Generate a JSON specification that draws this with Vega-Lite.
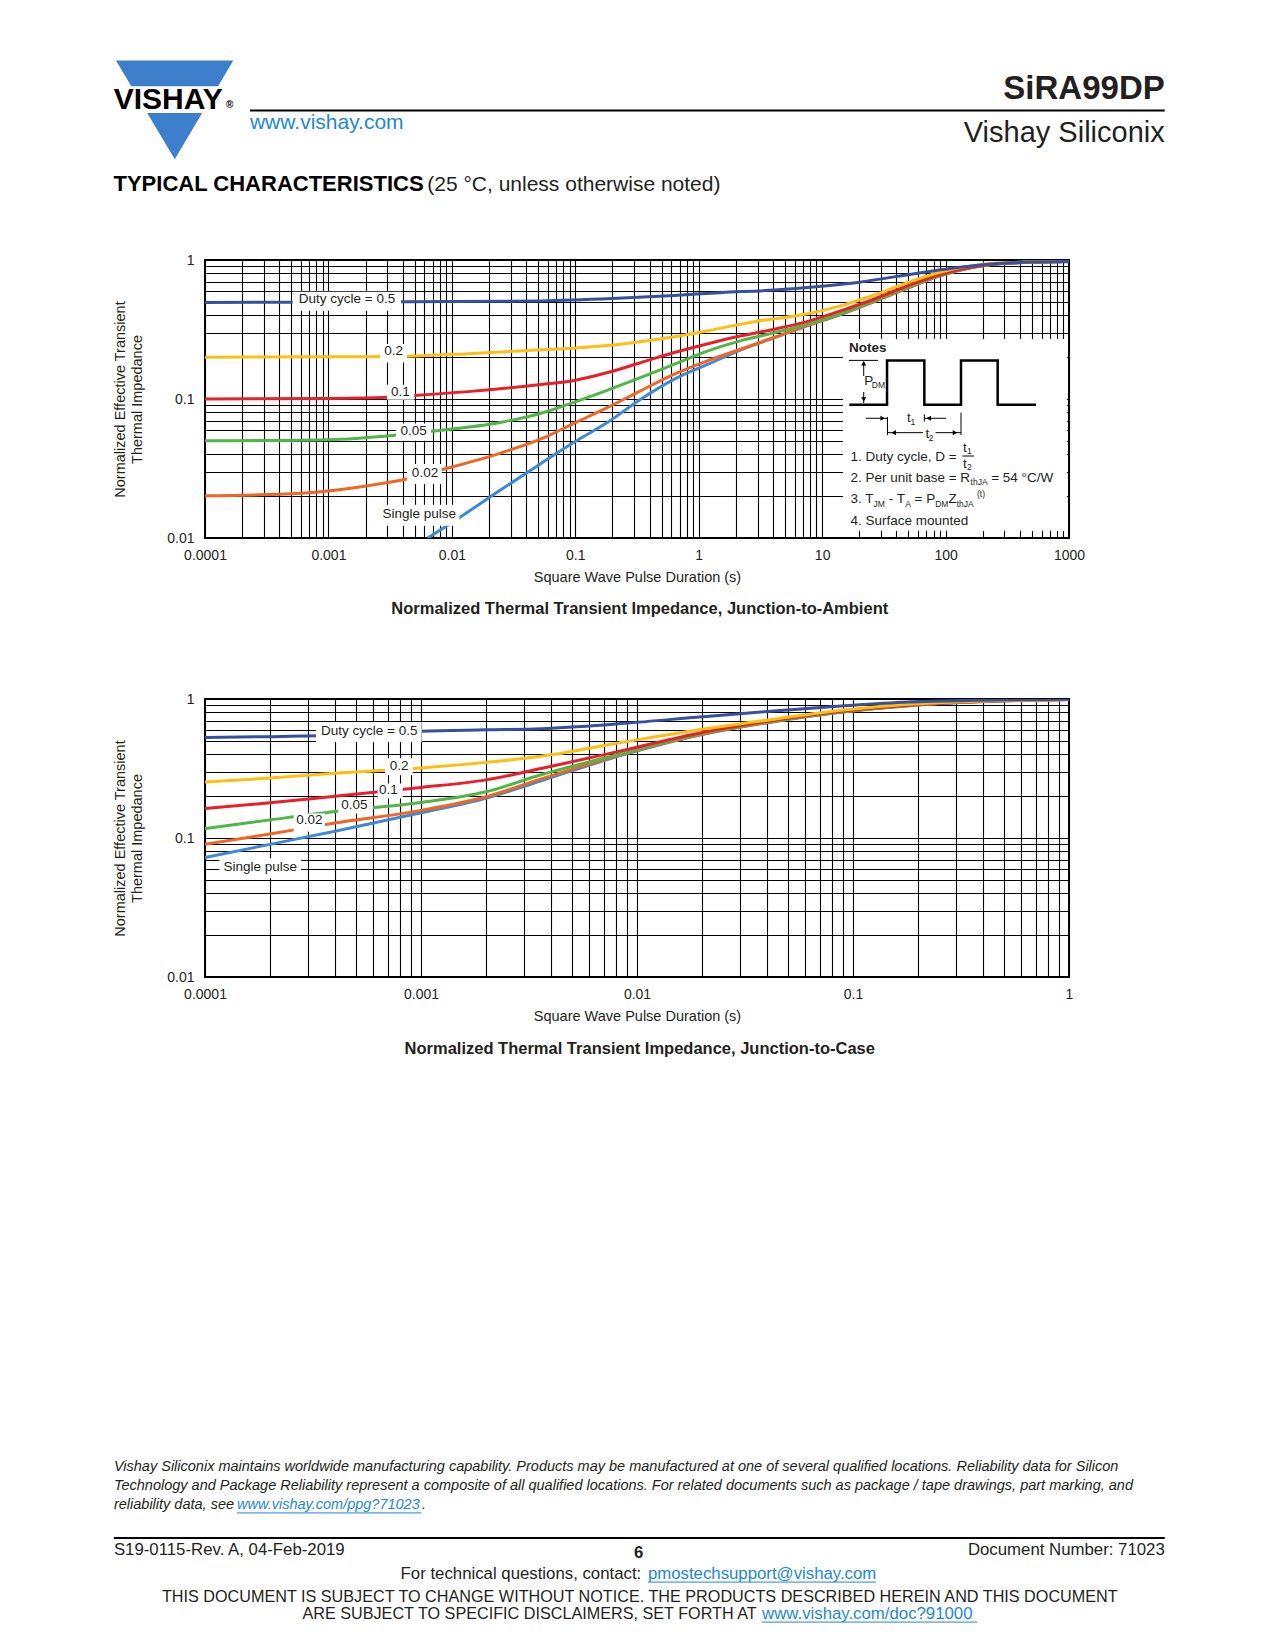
{
"$schema":"https://vega.github.io/schema/vega-lite/v6.json",
"background":"white",
"padding":0,
"spacing":0,
"config":{
 "font":"Liberation Sans",
 "view":{"stroke":"#000000","strokeWidth":2},
 "axis":{"labelFont":"Liberation Sans","labelFontSize":14,"labelColor":"#231f20","titleFont":"Liberation Sans","titleFontSize":14.5,"titleFontWeight":"normal","titleColor":"#231f20","grid":true,"gridColor":"#000000","gridOpacity":1,"gridWidth":1.1,"ticks":false,"domain":false}
},
"vconcat":[
{
 "width":864,"height":278,
 "resolve":{"scale":{"x":"independent","y":"independent"}},
 "layer":[
  {
   "encoding":{
    "x":{"field":"x","type":"quantitative","scale":{"type":"log","domain":[0.0001,1000],"nice":false},
     "axis":{"title":"Square Wave Pulse Duration (s)","values":[0.0001,0.0002,0.0003,0.0004,0.0005,0.0006,0.0007,0.0008,0.0009,0.001,0.002,0.003,0.004,0.005,0.006,0.007,0.008,0.009,0.01,0.02,0.03,0.04,0.05,0.06,0.07,0.08,0.09,0.1,0.2,0.3,0.4,0.5,0.6,0.7,0.8,0.9,1,2,3,4,5,6,7,8,9,10,20,30,40,50,60,70,80,90,100,200,300,400,500,600,700,800,900,1000],"format":"~g","labelExpr":"indexof(['0.0001','0.001','0.01','0.1','1','10','100','1000'], datum.label) >= 0 ? datum.label : ''","labelFlush":false,"labelOverlap":false,"labelPadding":10,"titlePadding":8}},
    "y":{"field":"y","type":"quantitative","scale":{"type":"log","domain":[0.01,1],"nice":false},
     "axis":{"title":["Normalized Effective Transient","Thermal Impedance"],"values":[0.01,0.02,0.03,0.04,0.05,0.06,0.07,0.08,0.09,0.1,0.2,0.3,0.4,0.5,0.6,0.7,0.8,0.9,1],"format":"~g","labelExpr":"indexof(['0.01','0.1','1'], datum.label) >= 0 ? datum.label : ''","labelFlush":false,"labelOverlap":false,"labelPadding":11,"titlePadding":22,"titleLineHeight":17}}
   },
   "layer":[
    {"data":{"values":[
      {"s":"Single pulse","x":0.00637,"y":0.01},{"s":"Single pulse","x":0.0119,"y":0.0143},{"s":"Single pulse","x":0.0251,"y":0.0223},{"s":"Single pulse","x":0.0528,"y":0.0344},{"s":"Single pulse","x":0.0984,"y":0.049},{"s":"Single pulse","x":0.183,"y":0.068},{"s":"Single pulse","x":0.341,"y":0.1},{"s":"Single pulse","x":0.635,"y":0.139},{"s":"Single pulse","x":1.19,"y":0.178},{"s":"Single pulse","x":2.21,"y":0.226},{"s":"Single pulse","x":4.11,"y":0.276},{"s":"Single pulse","x":7.66,"y":0.338},{"s":"Single pulse","x":14.3,"y":0.407},{"s":"Single pulse","x":26.5,"y":0.502},{"s":"Single pulse","x":49.5,"y":0.628},{"s":"Single pulse","x":92,"y":0.772},{"s":"Single pulse","x":171,"y":0.889},{"s":"Single pulse","x":320,"y":0.95},{"s":"Single pulse","x":1000,"y":0.976},
      {"s":"0.02","x":0.0001,"y":0.0201},{"s":"0.02","x":0.0006,"y":0.021},{"s":"0.02","x":0.0021,"y":0.0238},{"s":"0.02","x":0.0043,"y":0.0266},{"s":"0.02","x":0.0083,"y":0.031},{"s":"0.02","x":0.0251,"y":0.041},{"s":"0.02","x":0.0528,"y":0.0516},{"s":"0.02","x":0.0984,"y":0.067},{"s":"0.02","x":0.183,"y":0.087},{"s":"0.02","x":0.341,"y":0.115},{"s":"0.02","x":0.635,"y":0.151},{"s":"0.02","x":1.19,"y":0.189},{"s":"0.02","x":2.21,"y":0.229},{"s":"0.02","x":4.11,"y":0.278},{"s":"0.02","x":7.66,"y":0.34},{"s":"0.02","x":14.3,"y":0.409},{"s":"0.02","x":26.5,"y":0.504},{"s":"0.02","x":49.5,"y":0.63},{"s":"0.02","x":92,"y":0.775},{"s":"0.02","x":171,"y":0.89},{"s":"0.02","x":320,"y":0.95},{"s":"0.02","x":1000,"y":0.976},
      {"s":"0.05","x":0.0001,"y":0.05},{"s":"0.05","x":0.001,"y":0.051},{"s":"0.05","x":0.0035,"y":0.055},{"s":"0.05","x":0.0068,"y":0.0585},{"s":"0.05","x":0.0251,"y":0.068},{"s":"0.05","x":0.0528,"y":0.079},{"s":"0.05","x":0.0984,"y":0.095},{"s":"0.05","x":0.183,"y":0.116},{"s":"0.05","x":0.341,"y":0.143},{"s":"0.05","x":0.635,"y":0.178},{"s":"0.05","x":1.19,"y":0.222},{"s":"0.05","x":2.21,"y":0.263},{"s":"0.05","x":4.11,"y":0.3},{"s":"0.05","x":7.66,"y":0.346},{"s":"0.05","x":14.3,"y":0.413},{"s":"0.05","x":26.5,"y":0.51},{"s":"0.05","x":49.5,"y":0.635},{"s":"0.05","x":92,"y":0.78},{"s":"0.05","x":171,"y":0.89},{"s":"0.05","x":320,"y":0.95},{"s":"0.05","x":1000,"y":0.976},
      {"s":"0.1","x":0.0001,"y":0.1},{"s":"0.1","x":0.001,"y":0.101},{"s":"0.1","x":0.003,"y":0.103},{"s":"0.1","x":0.005,"y":0.106},{"s":"0.1","x":0.0135,"y":0.113},{"s":"0.1","x":0.0528,"y":0.127},{"s":"0.1","x":0.0984,"y":0.136},{"s":"0.1","x":0.183,"y":0.155},{"s":"0.1","x":0.341,"y":0.183},{"s":"0.1","x":0.635,"y":0.216},{"s":"0.1","x":1.19,"y":0.25},{"s":"0.1","x":2.21,"y":0.285},{"s":"0.1","x":4.11,"y":0.318},{"s":"0.1","x":7.66,"y":0.362},{"s":"0.1","x":14.3,"y":0.432},{"s":"0.1","x":26.5,"y":0.524},{"s":"0.1","x":49.5,"y":0.653},{"s":"0.1","x":92,"y":0.79},{"s":"0.1","x":171,"y":0.895},{"s":"0.1","x":320,"y":0.95},{"s":"0.1","x":1000,"y":0.976},
      {"s":"0.2","x":0.0001,"y":0.2},{"s":"0.2","x":0.001,"y":0.201},{"s":"0.2","x":0.005,"y":0.204},{"s":"0.2","x":0.0135,"y":0.212},{"s":"0.2","x":0.0528,"y":0.226},{"s":"0.2","x":0.1,"y":0.233},{"s":"0.2","x":0.25,"y":0.25},{"s":"0.2","x":0.635,"y":0.28},{"s":"0.2","x":1.19,"y":0.31},{"s":"0.2","x":2.8,"y":0.36},{"s":"0.2","x":7.66,"y":0.41},{"s":"0.2","x":14.3,"y":0.47},{"s":"0.2","x":26.5,"y":0.56},{"s":"0.2","x":49.5,"y":0.69},{"s":"0.2","x":92,"y":0.82},{"s":"0.2","x":171,"y":0.915},{"s":"0.2","x":320,"y":0.958},{"s":"0.2","x":1000,"y":0.978},
      {"s":"0.5","x":0.0001,"y":0.495},{"s":"0.5","x":0.001,"y":0.497},{"s":"0.5","x":0.01,"y":0.502},{"s":"0.5","x":0.0528,"y":0.508},{"s":"0.5","x":0.2,"y":0.528},{"s":"0.5","x":0.635,"y":0.556},{"s":"0.5","x":1.5,"y":0.582},{"s":"0.5","x":4.11,"y":0.608},{"s":"0.5","x":10.4,"y":0.65},{"s":"0.5","x":19.4,"y":0.69},{"s":"0.5","x":36.1,"y":0.75},{"s":"0.5","x":67.2,"y":0.815},{"s":"0.5","x":125,"y":0.882},{"s":"0.5","x":233,"y":0.935},{"s":"0.5","x":434,"y":0.962},{"s":"0.5","x":1000,"y":0.976}
     ]},
     "mark":{"type":"line","strokeWidth":3,"interpolate":"monotone","clip":true},
     "encoding":{"color":{"field":"s","type":"nominal","scale":{"domain":["Single pulse","0.02","0.05","0.1","0.2","0.5"],"range":["#3d8bd5","#f26522","#4fb748","#e8202a","#fdc010","#34509e"]},"legend":null}}},
    {"data":{"values":[
      {"x":0.000513,"x2":0.00387,"y":0.432,"y2":0.591},{"x":0.002633,"x2":0.00433,"y":0.1833,"y2":0.2487},{"x":0.00298,"x2":0.00496,"y":0.0989,"y2":0.1268},{"x":0.00353,"x2":0.00678,"y":0.0501,"y2":0.0667},{"x":0.00433,"x2":0.00827,"y":0.02446,"y2":0.0341},{"x":0.002633,"x2":0.01149,"y":0.01226,"y2":0.01737}
     ]},
     "mark":{"type":"rect","fill":"white","opacity":1},
     "encoding":{"x2":{"field":"x2"},"y2":{"field":"y2"}}},
    {"data":{"values":[
      {"x":0.001414,"y":0.524,"t":"Duty cycle = 0.5"},{"x":0.00338,"y":0.2226,"t":"0.2"},{"x":0.00382,"y":0.1129,"t":"0.1"},{"x":0.00491,"y":0.0591,"t":"0.05"},{"x":0.00606,"y":0.02935,"t":"0.02"},{"x":0.00545,"y":0.01489,"t":"Single pulse"}
     ]},
     "mark":{"type":"text","fontSize":13.5,"align":"center","baseline":"middle","color":"#231f20"},
     "encoding":{"text":{"field":"t"}}}
   ]
  },
  {
   "encoding":{
    "x":{"field":"x","type":"quantitative","scale":{"domain":[0,612],"range":[-204,1071],"nice":false,"zero":false},"axis":null},
    "y":{"field":"y","type":"quantitative","scale":{"domain":[0,792],"range":[-259,1391],"nice":false,"zero":false},"axis":null}
   },
   "layer":[
    {"data":{"values":[{"x":0,"x2":612,"y":0,"y2":307.2}]},"mark":{"type":"rect","opacity":0},"encoding":{"x2":{"field":"x2"},"y2":{"field":"y2"}}},
    {"data":{"values":[{"x":55.2,"y":28.5,"y2":28.5},{"x":83.4,"y":28.5,"y2":76.0},{"x":111.5,"y":28.5,"y2":28.5}]},"mark":{"type":"area","color":"#3d7fcb","interpolate":"linear"},"encoding":{"y2":{"field":"y2"}}},
    {"data":{"values":[{"x":48,"x2":118,"y":40.9,"y2":53.7}]},"mark":{"type":"rect","fill":"white"},"encoding":{"x2":{"field":"x2"},"y2":{"field":"y2"}}},
    {"data":{"values":[{"x":404.2,"x2":511.7,"y":162.2,"y2":254.4}]},"mark":{"type":"rect","fill":"white"},"encoding":{"x2":{"field":"x2"},"y2":{"field":"y2"}}},
    {"data":{"values":[{"x":119.5,"x2":558.6,"y":52.6,"y2":52.6}]},"mark":{"type":"rule","strokeWidth":2,"color":"#000000"},"encoding":{"x2":{"field":"x2"},"y2":{"field":"y2"}}},
    {"data":{"values":[
      {"x":407.0,"x2":421.0,"y":172.5,"y2":172.5},{"x":414.1,"x2":414.1,"y":173.3,"y2":180.0},{"x":414.1,"x2":414.1,"y":187.7,"y2":193.0},{"x":415.2,"x2":425.3,"y":200.3,"y2":200.3},{"x":443.2,"x2":453.6,"y":200.3,"y2":200.3},{"x":425.5,"x2":425.5,"y":199.7,"y2":208.3},{"x":443.2,"x2":443.2,"y":198.4,"y2":201.9},{"x":460.8,"x2":460.8,"y":197.6,"y2":208.3},{"x":425.5,"x2":442.6,"y":207.2,"y2":207.2},{"x":448.6,"x2":460.8,"y":207.2,"y2":207.2},{"x":461.5,"x2":467.0,"y":218.4,"y2":218.4}
     ]},"mark":{"type":"rule","strokeWidth":1,"color":"#000000"},"encoding":{"x2":{"field":"x2"},"y2":{"field":"y2"}}},
    {"data":{"values":[
      {"x":407.2,"y":193.8,"i":0},{"x":425.3,"y":193.8,"i":1},{"x":425.3,"y":172.5,"i":2},{"x":443.2,"y":172.5,"i":3},{"x":443.2,"y":193.8,"i":4},{"x":460.8,"y":193.8,"i":5},{"x":460.8,"y":172.5,"i":6},{"x":478.4,"y":172.5,"i":7},{"x":478.4,"y":193.8,"i":8},{"x":496.8,"y":193.8,"i":9}
     ]},"mark":{"type":"line","strokeWidth":2.5,"color":"#000000","strokeJoin":"miter"},"encoding":{"order":{"field":"i","type":"quantitative"}}},
    {"data":{"values":[
      {"x":414.1,"y":173.9,"d":"up"},{"x":414.1,"y":191.2,"d":"down"},{"x":423.2,"y":200.3,"d":"right"},{"x":445.3,"y":200.3,"d":"left"},{"x":428.5,"y":207.2,"d":"left"},{"x":457.9,"y":207.2,"d":"right"}
     ]},"mark":{"type":"point","filled":true,"color":"#000000","size":26,"opacity":1},"encoding":{"shape":{"field":"d","type":"nominal","scale":{"domain":["up","down","left","right"],"range":["triangle-up","triangle-down","triangle-left","triangle-right"]},"legend":null}}},
    {"data":{"values":[{"x":54.1,"y":51.8,"t":"VISHAY"}]},"mark":{"type":"text","fontSize":30,"fontWeight":"bold","align":"left","baseline":"alphabetic","color":"#000000"},"encoding":{"text":{"field":"t"}}},
    {"data":{"values":[{"x":108.0,"y":51.4,"t":"®"}]},"mark":{"type":"text","fontSize":10,"fontWeight":"bold","align":"left","baseline":"alphabetic","color":"#000000"},"encoding":{"text":{"field":"t"}}},
    {"data":{"values":[{"x":558.6,"y":46.8,"t":"SiRA99DP"}]},"mark":{"type":"text","fontSize":33,"fontWeight":"bold","align":"right","baseline":"alphabetic","color":"#231f20"},"encoding":{"text":{"field":"t"}}},
    {"data":{"values":[{"x":558.6,"y":67.5,"t":"Vishay Siliconix"}]},"mark":{"type":"text","fontSize":29,"align":"right","baseline":"alphabetic","color":"#231f20"},"encoding":{"text":{"field":"t"}}},
    {"data":{"values":[{"x":119.5,"y":61.6,"t":"www.vishay.com"}]},"mark":{"type":"text","fontSize":21,"align":"left","baseline":"alphabetic","color":"#1e88d2"},"encoding":{"text":{"field":"t"}}},
    {"data":{"values":[{"x":54.0,"y":91.2,"t":"TYPICAL CHARACTERISTICS"}]},"mark":{"type":"text","fontSize":22,"fontWeight":"bold","align":"left","baseline":"alphabetic","color":"#000000"},"encoding":{"text":{"field":"t"}}},
    {"data":{"values":[{"x":204.6,"y":91.2,"t":"(25 °C, unless otherwise noted)"}]},"mark":{"type":"text","fontSize":21,"align":"left","baseline":"alphabetic","color":"#231f20"},"encoding":{"text":{"field":"t"}}},
    {"data":{"values":[{"x":306.6,"y":292.0,"t":"Normalized Thermal Transient Impedance, Junction-to-Ambient"}]},"mark":{"type":"text","fontSize":16.5,"fontWeight":"bold","align":"center","baseline":"middle","color":"#231f20"},"encoding":{"text":{"field":"t"}}},
    {"data":{"values":[{"x":407.0,"y":166.7,"t":"Notes"}]},"mark":{"type":"text","fontSize":13.5,"fontWeight":"bold","align":"left","baseline":"middle","color":"#231f20"},"encoding":{"text":{"field":"t"}}},
    {"data":{"values":[
      {"x":407.7,"y":218.7,"t":"1. Duty cycle, D ="},{"x":407.7,"y":228.8,"t":"2. Per unit base = R"},{"x":475.3,"y":228.8,"t":"= 54 °C/W"},{"x":407.7,"y":239.2,"t":"3. T"},{"x":426.1,"y":239.2,"t":"- T"},{"x":438.5,"y":239.2,"t":"= P"},{"x":454.8,"y":239.2,"t":"Z"},{"x":407.7,"y":249.6,"t":"4. Surface mounted"},{"x":414.4,"y":182.4,"t":"P"},{"x":434.9,"y":200.3,"t":"t"},{"x":443.7,"y":207.7,"t":"t"},{"x":461.8,"y":214.4,"t":"t"},{"x":461.8,"y":222.2,"t":"t"}
     ]},"mark":{"type":"text","fontSize":13.5,"align":"left","baseline":"middle","color":"#231f20"},"encoding":{"text":{"field":"t"}}},
    {"data":{"values":[
      {"x":418.0,"y":184.3,"t":"DM"},{"x":436.5,"y":202.1,"t":"1"},{"x":445.3,"y":209.6,"t":"2"},{"x":463.7,"y":216.0,"t":"1"},{"x":463.7,"y":223.9,"t":"2"},{"x":465.4,"y":230.9,"t":"thJA"},{"x":418.8,"y":241.3,"t":"JM"},{"x":434.0,"y":241.3,"t":"A"},{"x":448.4,"y":241.3,"t":"DM"},{"x":458.7,"y":241.3,"t":"thJA"}
     ]},"mark":{"type":"text","fontSize":8.5,"align":"left","baseline":"middle","color":"#231f20"},"encoding":{"text":{"field":"t"}}},
    {"data":{"values":[{"x":468.5,"y":236.7,"t":"(t)"}]},"mark":{"type":"text","fontSize":8.5,"align":"left","baseline":"middle","color":"#231f20"},"encoding":{"text":{"field":"t"}}}
   ]
  }
 ]
},
{
 "width":864,"height":278,
 "resolve":{"scale":{"x":"independent","y":"independent"}},
 "layer":[
  {
   "encoding":{
    "x":{"field":"x","type":"quantitative","scale":{"type":"log","domain":[0.0001,1],"nice":false},
     "axis":{"title":"Square Wave Pulse Duration (s)","values":[0.0001,0.0002,0.0003,0.0004,0.0005,0.0006,0.0007,0.0008,0.0009,0.001,0.002,0.003,0.004,0.005,0.006,0.007,0.008,0.009,0.01,0.02,0.03,0.04,0.05,0.06,0.07,0.08,0.09,0.1,0.2,0.3,0.4,0.5,0.6,0.7,0.8,0.9,1],"format":"~g","labelExpr":"indexof(['0.0001','0.001','0.01','0.1','1'], datum.label) >= 0 ? datum.label : ''","labelFlush":false,"labelOverlap":false,"labelPadding":10,"titlePadding":8}},
    "y":{"field":"y","type":"quantitative","scale":{"type":"log","domain":[0.01,1],"nice":false},
     "axis":{"title":["Normalized Effective Transient","Thermal Impedance"],"values":[0.01,0.02,0.03,0.04,0.05,0.06,0.07,0.08,0.09,0.1,0.2,0.3,0.4,0.5,0.6,0.7,0.8,0.9,1],"format":"~g","labelExpr":"indexof(['0.01','0.1','1'], datum.label) >= 0 ? datum.label : ''","labelFlush":false,"labelOverlap":false,"labelPadding":11,"titlePadding":22,"titleLineHeight":17}}
   },
   "layer":[
    {"data":{"values":[
      {"s":"Single pulse","x":0.0001,"y":0.0725},{"s":"Single pulse","x":0.0002,"y":0.09},{"s":"Single pulse","x":0.0004,"y":0.112},{"s":"Single pulse","x":0.001,"y":0.152},{"s":"Single pulse","x":0.002,"y":0.193},{"s":"Single pulse","x":0.0036,"y":0.258},{"s":"Single pulse","x":0.0087,"y":0.398},{"s":"Single pulse","x":0.02,"y":0.555},{"s":"Single pulse","x":0.043,"y":0.687},{"s":"Single pulse","x":0.088,"y":0.803},{"s":"Single pulse","x":0.18,"y":0.894},{"s":"Single pulse","x":0.365,"y":0.955},{"s":"Single pulse","x":1,"y":0.993},
      {"s":"0.02","x":0.0001,"y":0.09},{"s":"0.02","x":0.0002,"y":0.107},{"s":"0.02","x":0.0004,"y":0.128},{"s":"0.02","x":0.001,"y":0.158},{"s":"0.02","x":0.002,"y":0.198},{"s":"0.02","x":0.0036,"y":0.266},{"s":"0.02","x":0.0087,"y":0.403},{"s":"0.02","x":0.02,"y":0.558},{"s":"0.02","x":0.043,"y":0.69},{"s":"0.02","x":0.088,"y":0.805},{"s":"0.02","x":0.18,"y":0.895},{"s":"0.02","x":0.365,"y":0.955},{"s":"0.02","x":1,"y":0.993},
      {"s":"0.05","x":0.0001,"y":0.117},{"s":"0.05","x":0.0002,"y":0.135},{"s":"0.05","x":0.0004,"y":0.155},{"s":"0.05","x":0.001,"y":0.18},{"s":"0.05","x":0.002,"y":0.215},{"s":"0.05","x":0.0036,"y":0.285},{"s":"0.05","x":0.0087,"y":0.409},{"s":"0.05","x":0.02,"y":0.564},{"s":"0.05","x":0.043,"y":0.695},{"s":"0.05","x":0.088,"y":0.81},{"s":"0.05","x":0.18,"y":0.898},{"s":"0.05","x":0.365,"y":0.955},{"s":"0.05","x":1,"y":0.993},
      {"s":"0.1","x":0.0001,"y":0.163},{"s":"0.1","x":0.0002,"y":0.179},{"s":"0.1","x":0.0004,"y":0.2},{"s":"0.1","x":0.001,"y":0.231},{"s":"0.1","x":0.002,"y":0.262},{"s":"0.1","x":0.0036,"y":0.316},{"s":"0.1","x":0.0087,"y":0.428},{"s":"0.1","x":0.02,"y":0.575},{"s":"0.1","x":0.043,"y":0.703},{"s":"0.1","x":0.088,"y":0.816},{"s":"0.1","x":0.18,"y":0.901},{"s":"0.1","x":0.365,"y":0.955},{"s":"0.1","x":1,"y":0.993},
      {"s":"0.2","x":0.0001,"y":0.253},{"s":"0.2","x":0.0002,"y":0.27},{"s":"0.2","x":0.0004,"y":0.292},{"s":"0.2","x":0.001,"y":0.319},{"s":"0.2","x":0.002,"y":0.35},{"s":"0.2","x":0.0036,"y":0.387},{"s":"0.2","x":0.0087,"y":0.49},{"s":"0.2","x":0.02,"y":0.605},{"s":"0.2","x":0.043,"y":0.715},{"s":"0.2","x":0.088,"y":0.83},{"s":"0.2","x":0.18,"y":0.916},{"s":"0.2","x":0.365,"y":0.962},{"s":"0.2","x":1,"y":0.993},
      {"s":"0.5","x":0.0001,"y":0.528},{"s":"0.5","x":0.0002,"y":0.536},{"s":"0.5","x":0.0004,"y":0.548},{"s":"0.5","x":0.001,"y":0.585},{"s":"0.5","x":0.002,"y":0.6},{"s":"0.5","x":0.0036,"y":0.612},{"s":"0.5","x":0.0087,"y":0.668},{"s":"0.5","x":0.02,"y":0.745},{"s":"0.5","x":0.043,"y":0.82},{"s":"0.5","x":0.088,"y":0.89},{"s":"0.5","x":0.18,"y":0.952},{"s":"0.5","x":0.365,"y":0.98},{"s":"0.5","x":1,"y":0.996}
     ]},
     "mark":{"type":"line","strokeWidth":3,"interpolate":"monotone","clip":true},
     "encoding":{"color":{"field":"s","type":"nominal","scale":{"domain":["Single pulse","0.02","0.05","0.1","0.2","0.5"],"range":["#3d8bd5","#f26522","#4fb748","#e8202a","#fdc010","#34509e"]},"legend":null}}},
    {"data":{"values":[
      {"x":0.0003265,"x2":0.0010074,"y":0.4912,"y2":0.6836},{"x":0.000681,"x2":0.000915,"y":0.283,"y2":0.375},{"x":0.00063,"x2":0.000823,"y":0.1925,"y2":0.2467},{"x":0.000414,"x2":0.000598,"y":0.1502,"y2":0.1925},{"x":0.0002574,"x2":0.0003594,"y":0.1108,"y2":0.1502},{"x":0.0001165,"x2":0.000278,"y":0.0513,"y2":0.0714}
     ]},
     "mark":{"type":"rect","fill":"white","opacity":1},
     "encoding":{"x2":{"field":"x2"},"y2":{"field":"y2"}}},
    {"data":{"values":[
      {"x":0.000576,"y":0.5889,"t":"Duty cycle = 0.5"},{"x":0.000793,"y":0.3285,"t":"0.2"},{"x":0.000706,"y":0.2208,"t":"0.1"},{"x":0.000491,"y":0.1715,"t":"0.05"},{"x":0.000304,"y":0.1338,"t":"0.02"},{"x":0.0001803,"y":0.0621,"t":"Single pulse"}
     ]},
     "mark":{"type":"text","fontSize":13.5,"align":"center","baseline":"middle","color":"#231f20"},
     "encoding":{"text":{"field":"t"}}}
   ]
  },
  {
   "encoding":{
    "x":{"field":"x","type":"quantitative","scale":{"domain":[0,612],"range":[-204,1071],"nice":false,"zero":false},"axis":null},
    "y":{"field":"y","type":"quantitative","scale":{"domain":[0,792],"range":[-699,951],"nice":false,"zero":false},"axis":null}
   },
   "layer":[
    {"data":{"values":[{"x":0,"x2":612,"y":308.9,"y2":792}]},"mark":{"type":"rect","opacity":0},"encoding":{"x2":{"field":"x2"},"y2":{"field":"y2"}}},
    {"data":{"values":[{"x":54.2,"x2":558.6,"y":738.2,"y2":738.2}]},"mark":{"type":"rule","strokeWidth":2,"color":"#000000"},"encoding":{"x2":{"field":"x2"},"y2":{"field":"y2"}}},
    {"data":{"values":[{"x":113.3,"x2":201.8,"y":726.2,"y2":726.2},{"x":310.5,"x2":420.0,"y":759.4,"y2":759.4},{"x":365.3,"x2":468.5,"y":778.6,"y2":778.6}]},"mark":{"type":"rule","strokeWidth":1,"color":"#1e88d2"},"encoding":{"x2":{"field":"x2"},"y2":{"field":"y2"}}},
    {"data":{"values":[{"x":306.6,"y":503.4,"t":"Normalized Thermal Transient Impedance, Junction-to-Case"}]},"mark":{"type":"text","fontSize":16.5,"fontWeight":"bold","align":"center","baseline":"middle","color":"#231f20"},"encoding":{"text":{"field":"t"}}},
    {"data":{"values":[
      {"x":54.2,"y":704.3,"t":"Vishay Siliconix maintains worldwide manufacturing capability. Products may be manufactured at one of several qualified locations. Reliability data for Silicon"},
      {"x":54.2,"y":713.3,"t":"Technology and Package Reliability represent a composite of all qualified locations. For related documents such as package / tape drawings, part marking, and"},
      {"x":54.2,"y":722.4,"t":"reliability data, see"},
      {"x":202.1,"y":722.4,"t":"."}
     ]},"mark":{"type":"text","fontSize":14.5,"fontStyle":"italic","align":"left","baseline":"middle","color":"#231f20"},"encoding":{"text":{"field":"t"}}},
    {"data":{"values":[{"x":113.3,"y":722.4,"t":"www.vishay.com/ppg?71023"}]},"mark":{"type":"text","fontSize":14.5,"fontStyle":"italic","align":"left","baseline":"middle","color":"#1e88d2"},"encoding":{"text":{"field":"t"}}},
    {"data":{"values":[
      {"x":54.2,"y":744.2,"t":"S19-0115-Rev. A, 04-Feb-2019"},
      {"x":191.8,"y":755.3,"t":"For technical questions, contact:"}
     ]},"mark":{"type":"text","fontSize":16.8,"align":"left","baseline":"middle","color":"#231f20"},"encoding":{"text":{"field":"t"}}},
    {"data":{"values":[
      {"x":144.7,"y":774.6,"t":"ARE SUBJECT TO SPECIFIC DISCLAIMERS, SET FORTH AT"}
     ]},"mark":{"type":"text","fontSize":16.2,"align":"left","baseline":"middle","color":"#231f20"},"encoding":{"text":{"field":"t"}}},
    {"data":{"values":[{"x":558.6,"y":744.2,"t":"Document Number: 71023"}]},"mark":{"type":"text","fontSize":16.8,"align":"right","baseline":"middle","color":"#231f20"},"encoding":{"text":{"field":"t"}}},
    {"data":{"values":[{"x":306.6,"y":766.5,"t":"THIS DOCUMENT IS SUBJECT TO CHANGE WITHOUT NOTICE. THE PRODUCTS DESCRIBED HEREIN AND THIS DOCUMENT"}]},"mark":{"type":"text","fontSize":16.2,"align":"center","baseline":"middle","color":"#231f20"},"encoding":{"text":{"field":"t"}}},
    {"data":{"values":[{"x":306.1,"y":745.2,"t":"6"}]},"mark":{"type":"text","fontSize":16.8,"fontWeight":"bold","align":"center","baseline":"middle","color":"#231f20"},"encoding":{"text":{"field":"t"}}},
    {"data":{"values":[{"x":310.5,"y":755.3,"t":"pmostechsupport@vishay.com"},{"x":365.3,"y":774.6,"t":"www.vishay.com/doc?91000"}]},"mark":{"type":"text","fontSize":16.8,"align":"left","baseline":"middle","color":"#1e88d2"},"encoding":{"text":{"field":"t"}}}
   ]
  }
 ]
}
]
}
